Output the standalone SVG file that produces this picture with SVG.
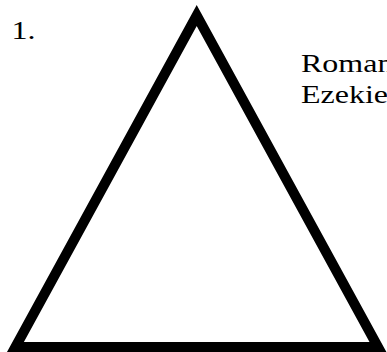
<svg xmlns="http://www.w3.org/2000/svg" width="387" height="352" viewBox="0 0 387 352">
<style>
.t{font-family:"Liberation Serif","Times New Roman",serif;font-size:25px;fill:#000}
</style>
<rect width="387" height="352" fill="#fff"/>
<g id="triangle">
<polygon points="196.7,15.5 378,347 15.4,347" fill="#fff" stroke="#000" stroke-width="10" stroke-linejoin="miter"/>
</g>
<g id="labels">
<text class="t" transform="translate(11.4,39) scale(1.28,1)">1.</text>
<text class="t" transform="translate(301,71.5) scale(1.28,1)">Romans</text>
<text class="t" transform="translate(301,103) scale(1.28,1)">Ezekiel</text>
</g>
</svg>
